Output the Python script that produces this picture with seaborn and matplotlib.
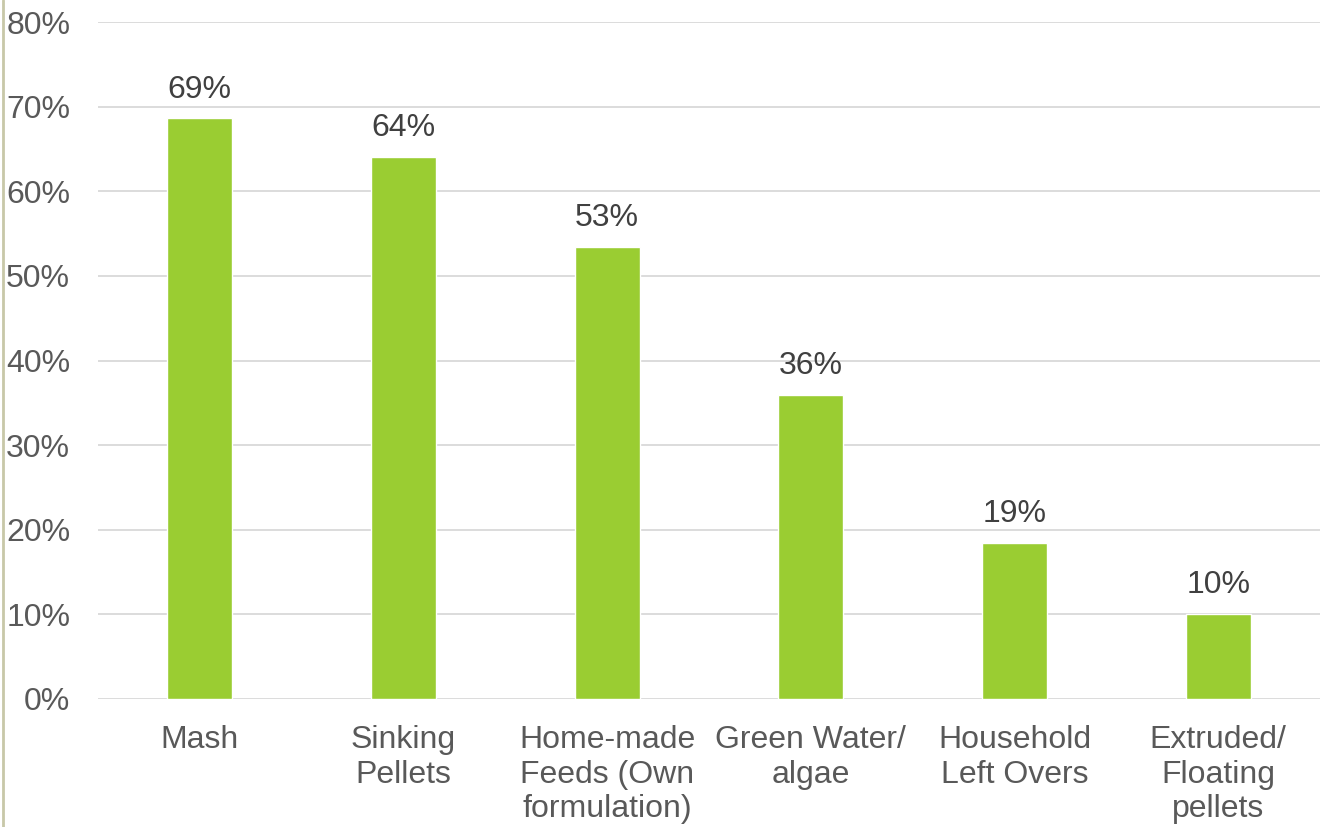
import matplotlib
matplotlib.use("Agg")
import matplotlib.pyplot as plt
import seaborn as sns
import pandas as pd
from matplotlib.lines import Line2D
from matplotlib.ticker import FuncFormatter

categories = ["Mash", "Sinking\nPellets", "Home-made\nFeeds (Own\nformulation)",
              "Green Water/\nalgae", "Household\nLeft Overs", "Extruded/\nFloating\npellets"]
values = [68.6, 64.1, 53.4, 35.9, 18.4, 10.0]
labels = ["69%", "64%", "53%", "36%", "19%", "10%"]
yticks = [0, 10, 20, 30, 40, 50, 60, 70, 80]

sns.set_theme(style="white")
plt.rcParams["font.family"] = ["Liberation Sans", "DejaVu Sans"]

df = pd.DataFrame({"cat": categories, "val": values})

fig = plt.figure(figsize=(13.24, 8.27), dpi=100)
ax = fig.add_axes([98/1324, 1-699/827, (1320-98)/1324, (699-22)/827])

sns.barplot(data=df, x="cat", y="val", color="#9ACD32", saturation=1, width=0.32, ax=ax)

ax.set_ylim(0, 80)
ax.set_xlim(-0.5, len(categories)-0.5)
ax.set_yticks(yticks)
ax.yaxis.set_major_formatter(FuncFormatter(lambda v, p: f"{int(v)}%"))
ax.grid(axis="y", color="#D9D9D9", linewidth=1.3)
ax.set_axisbelow(True)
for s in ax.spines.values():
    s.set_visible(False)
ax.set_xlabel("")
ax.set_ylabel("")
ax.tick_params(axis="y", length=0, pad=20, labelsize=23, labelcolor="#595959")
ax.tick_params(axis="x", length=0, pad=19, labelsize=23, labelcolor="#595959")
for t in ax.get_xticklabels():
    t.set_linespacing(1.18)

for i, (v, lab) in enumerate(zip(values, labels)):
    ax.annotate(lab, (i, v), xytext=(0, 10), textcoords="offset points",
                ha="center", va="bottom", fontsize=23, color="#404040")

fig.add_artist(Line2D([3/1324, 3/1324], [0, 1], color="#C8C8A8", linewidth=2, transform=fig.transFigure))

fig.savefig("out.png", dpi=100, facecolor="white")
